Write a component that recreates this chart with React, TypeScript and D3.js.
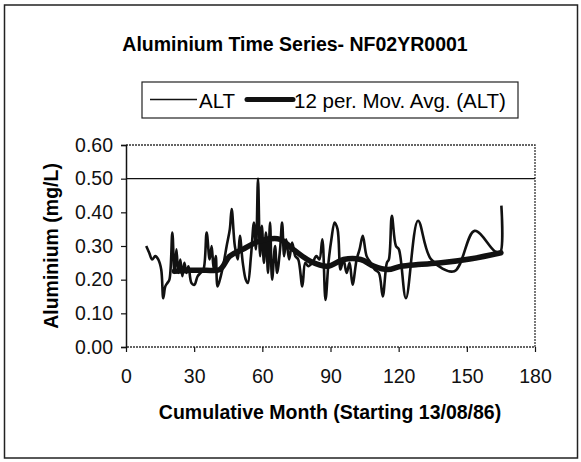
/**
 * Aluminium time series chart (ALT + 12 period moving average)
 */
import React, { useRef, useEffect } from 'react';
import * as d3 from 'd3';

// ALT samples: cumulative month / value (mg/L)
const altMonths = [
  8.9, 10.2, 11.5, 12.9, 14.2, 15.5, 16.4, 17.3, 18.2, 19.1, 20.4, 21.3, 22.2, 23.0, 23.9,
  24.8, 25.7, 26.6, 27.5, 28.8, 30.1, 31.5, 32.8, 34.1, 35.5, 36.8, 37.7, 38.6, 39.5, 40.3,
  41.7, 43.0, 44.3, 45.7, 46.5, 47.9, 49.2, 50.1, 51.4, 52.7, 53.6, 55.0, 56.3, 57.2, 58.1,
  59.0, 59.8, 60.7, 61.6, 62.5, 63.4, 64.3, 65.6, 66.5, 67.8, 68.7, 69.6, 70.5, 71.8, 73.1,
  74.5, 75.8, 77.6, 78.9, 80.2, 82.0, 83.8, 85.1, 86.4, 87.8, 89.1, 90.4, 91.8, 93.1, 94.4,
  95.7, 97.1, 98.4, 99.7, 101.5, 102.8, 104.2, 105.9, 107.7, 109.5, 111.3, 113.0, 114.8, 115.7,
  117.0, 118.8, 120.1, 123.2, 128.5, 134.3, 144.5, 153.4, 162.2, 164.6, 165.2,
];
const altValues = [
  0.30, 0.28, 0.26, 0.27, 0.26, 0.23, 0.145, 0.18, 0.19, 0.20, 0.34, 0.22, 0.29, 0.22, 0.26,
  0.21, 0.25, 0.22, 0.24, 0.19, 0.185, 0.21, 0.22, 0.23, 0.34, 0.26, 0.30, 0.23, 0.27, 0.18,
  0.21, 0.25, 0.30, 0.35, 0.41, 0.30, 0.26, 0.33, 0.25, 0.20, 0.19, 0.27, 0.37, 0.29, 0.50,
  0.27, 0.36, 0.25, 0.34, 0.22, 0.37, 0.20, 0.30, 0.22, 0.29, 0.37, 0.27, 0.32, 0.26, 0.31,
  0.27, 0.26, 0.18, 0.25, 0.24, 0.25, 0.27, 0.26, 0.32, 0.14, 0.25, 0.32, 0.37, 0.35, 0.23,
  0.26, 0.22, 0.25, 0.185, 0.26, 0.29, 0.33, 0.27, 0.25, 0.23, 0.22, 0.15, 0.25, 0.26,
  0.39, 0.30, 0.29, 0.145, 0.375, 0.26, 0.225, 0.345, 0.285, 0.28, 0.42,
];

// 12 per. moving average
const maMonths = [21.3, 28, 35, 41.2, 45.7, 51.4, 59, 67.8, 73.6, 81.1, 88.7, 95.7, 103.3, 109, 115.2, 121, 128.5, 138.7, 152, 165];
const maValues = [0.225, 0.228, 0.228, 0.23, 0.27, 0.29, 0.315, 0.32, 0.29, 0.255, 0.24, 0.26, 0.26, 0.24, 0.23, 0.24, 0.245, 0.25, 0.262, 0.28];

const xTicks = [0, 30, 60, 90, 120, 150, 180];
const yTicks = [0, 0.1, 0.2, 0.3, 0.4, 0.5, 0.6];

const WIDTH = 581;
const HEIGHT = 462;
const FONT = 'Arial, "Liberation Sans", sans-serif';

export default function App(): React.ReactElement {
  const svgRef = useRef<SVGSVGElement>(null);

  useEffect(() => {
    if (!svgRef.current) return;
    const svg = d3.select(svgRef.current);
    svg.selectAll('*').remove();

    const plot = { left: 126, right: 535, top: 145, bottom: 347 };
    const x = d3.scaleLinear().domain([0, 180]).range([plot.left, plot.right]);
    const y = d3.scaleLinear().domain([0, 0.6]).range([plot.bottom, plot.top]);

    svg.append('rect')
      .attr('width', WIDTH).attr('height', HEIGHT).attr('fill', '#fff');

    // outer frame
    svg.append('rect')
      .attr('x', 4.5).attr('y', 5).attr('width', 573).attr('height', 453)
      .attr('fill', 'none').attr('stroke', '#222').attr('stroke-width', 1.5);

    // title
    svg.append('text')
      .attr('x', 295).attr('y', 51)
      .attr('text-anchor', 'middle')
      .attr('font-family', FONT).attr('font-size', '19.5px').attr('font-weight', 700)
      .text('Aluminium Time Series- NF02YR0001');

    // legend
    const legend = svg.append('g');
    legend.append('rect')
      .attr('x', 142).attr('y', 82).attr('width', 376).attr('height', 36)
      .attr('fill', '#fff').attr('stroke', '#222').attr('stroke-width', 1.2);
    legend.append('line')
      .attr('x1', 150).attr('x2', 197).attr('y1', 99.5).attr('y2', 99.5)
      .attr('stroke', '#111').attr('stroke-width', 1.6);
    legend.append('text')
      .attr('x', 199).attr('y', 108)
      .attr('font-family', FONT).attr('font-size', '20.5px')
      .text('ALT');
    legend.append('line')
      .attr('x1', 247).attr('x2', 293).attr('y1', 99.5).attr('y2', 99.5)
      .attr('stroke', '#111').attr('stroke-width', 5).attr('stroke-linecap', 'round');
    legend.append('text')
      .attr('x', 294).attr('y', 108)
      .attr('font-family', FONT).attr('font-size', '20.5px')
      .text('12 per. Mov. Avg. (ALT)');

    // plot area border (dotted top/right/bottom)
    const border = d3.path();
    border.moveTo(plot.left, plot.top);
    border.lineTo(plot.right, plot.top);
    border.lineTo(plot.right, plot.bottom);
    border.lineTo(plot.left, plot.bottom);
    svg.append('path')
      .attr('d', border.toString())
      .attr('fill', 'none').attr('stroke', '#333').attr('stroke-width', 1.3)
      .attr('stroke-dasharray', '2,1');

    // single 0.50 gridline
    svg.append('line')
      .attr('x1', plot.left).attr('x2', plot.right)
      .attr('y1', y(0.5)).attr('y2', y(0.5))
      .attr('stroke', '#111').attr('stroke-width', 1.3);

    // y axis
    const yAxis = svg.append('g').attr('transform', `translate(${plot.left},0)`)
      .call(d3.axisLeft(y).tickValues(yTicks).tickSize(5).tickPadding(8).tickFormat(d3.format('.2f')));
    yAxis.select('.domain').attr('stroke', '#111').attr('stroke-width', 1.5);
    yAxis.selectAll('.tick line').attr('stroke', '#111').attr('stroke-width', 1.2);
    yAxis.selectAll('text')
      .attr('font-family', FONT).attr('font-size', '19.5px').attr('fill', '#111');

    // x axis
    const xAxis = svg.append('g').attr('transform', `translate(0,${plot.bottom})`)
      .call(d3.axisBottom(x).tickValues(xTicks).tickSize(5).tickPadding(17).tickFormat(d3.format('d')));
    xAxis.select('.domain').remove();
    xAxis.selectAll('.tick line').attr('stroke', '#111').attr('stroke-width', 1.2);
    xAxis.selectAll('text')
      .attr('font-family', FONT).attr('font-size', '19.5px').attr('fill', '#111');

    // axis titles
    svg.append('text')
      .attr('transform', `translate(58,${(plot.top + plot.bottom) / 2}) rotate(-90)`)
      .attr('text-anchor', 'middle')
      .attr('font-family', FONT).attr('font-size', '19.5px').attr('font-weight', 700)
      .text('Aluminium (mg/L)');
    svg.append('text')
      .attr('x', 330).attr('y', 419)
      .attr('text-anchor', 'middle')
      .attr('font-family', FONT).attr('font-size', '19.5px').attr('font-weight', 700)
      .text('Cumulative Month (Starting 13/08/86)');

    // series
    const altLine = d3.line<number>()
      .x((_, i) => x(altMonths[i]))
      .y((d) => y(d))
      .curve(d3.curveCatmullRom.alpha(0.5));
    svg.append('path')
      .attr('d', altLine(altValues))
      .attr('fill', 'none').attr('stroke', '#111').attr('stroke-width', 2.6)
      .attr('stroke-linejoin', 'round');

    const maLine = d3.line<number>()
      .x((_, i) => x(maMonths[i]))
      .y((d) => y(d))
      .curve(d3.curveCatmullRom.alpha(0.5));
    svg.append('path')
      .attr('d', maLine(maValues))
      .attr('fill', 'none').attr('stroke', '#111').attr('stroke-width', 5.5)
      .attr('stroke-linejoin', 'round').attr('stroke-linecap', 'round');
  }, []);

  return (
    <svg
      ref={svgRef}
      width={WIDTH}
      height={HEIGHT}
      style={{ position: 'absolute', left: 0, top: 0 }}
    />
  );
}
